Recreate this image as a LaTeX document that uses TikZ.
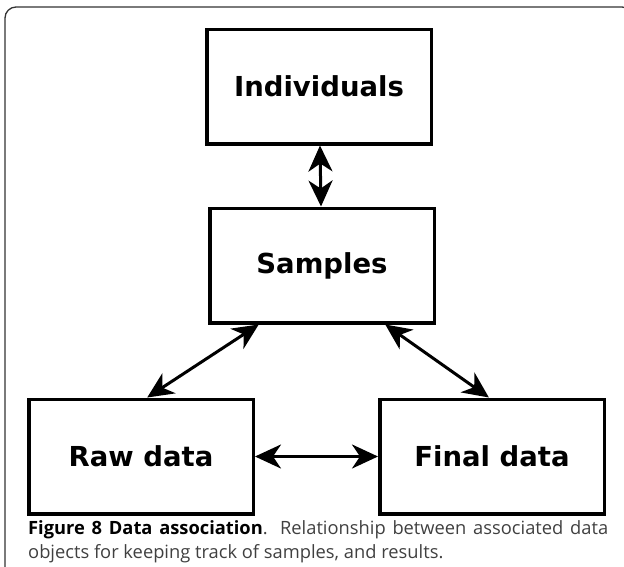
\documentclass[tikz,border=0pt]{standalone}
\usepackage{fontspec}
\setmainfont{Open Sans}
\newfontfamily\labelfont{DejaVu Sans}
\usetikzlibrary{positioning,arrows.meta}

\begin{document}
\begin{tikzpicture}[x=1pt, y=-1pt, node distance=179pt]
    % Define styles
    \tikzstyle{entity} = [rectangle, minimum width=224.5pt, minimum height=114.5pt, text centered, draw=black, line width=3.5pt, font=\labelfont\bfseries\fontsize{27.5}{30}\selectfont]
    \tikzstyle{arrow} = [line width=3pt, {Stealth[length=26pt,width=24pt,inset=8pt]}-{Stealth[length=26pt,width=24pt,inset=8pt]}]
    \tikzstyle{frame} = [draw=black!80, line width=1.3pt, rounded corners=11pt]

    \useasboundingbox (0,0) rectangle (624,566);
    \draw [frame] (5,567.5) -- (5,7) -- (633,7) -- (633,567.5);

    % Nodes
    \node (individuals) [entity] at (319,86.5) {Individuals};
    \node (samples) [entity, below of=individuals, xshift=3pt] {Samples};
    \node (rawdata) [entity, below of=samples, xshift=-181pt, yshift=-12pt] {Raw data};
    \node (finaldata) [entity, right of=rawdata, xshift=172pt] {Final data};

    % Arrows
    \draw [arrow] (individuals) -- (samples);
    \draw [arrow] (samples.223) -- (rawdata.84);
    \draw [arrow] (samples.317) -- (finaldata.93);
    \draw [arrow] (rawdata) -- (finaldata);

    % Caption
    \node (caption) [anchor=north west, text width=580pt, align=justify, inner sep=0pt, text=black!75, font=\fontsize{18.3}{24}\selectfont] at (28,520) {\hyphenpenalty=10000\textcolor{black}{\textbf{Figure 8 Data association}}. Relationship between associated data objects for keeping track of samples, and results.};
\end{tikzpicture}
\end{document}
